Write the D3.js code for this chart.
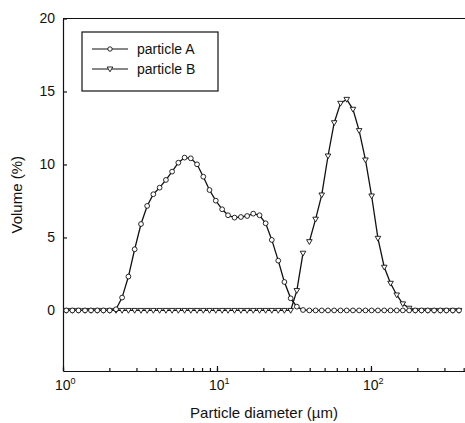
<!DOCTYPE html>
<html>
<head>
<meta charset="utf-8">
<script src="https://cdn.jsdelivr.net/npm/d3@7"></script>
<style>
  body { margin: 0; background: #fff; }
  text { font-family: "Liberation Sans", Arial, sans-serif; fill: #111; }
</style>
</head>
<body>
<script>
// particle size bins (um) shared by both samples
diameters = [1.05, 1.15, 1.26, 1.39, 1.52, 1.67, 1.83, 2.01,
  2.21, 2.42, 2.66, 2.92, 3.21, 3.52, 3.86, 4.24,
  4.66, 5.11, 5.61, 6.16, 6.76, 7.42, 8.15, 8.94, 9.82,
  10.8, 11.8, 13.0, 14.3, 15.7, 17.2, 18.9, 20.7, 22.7, 25.0, 27.4, 30.1, 33.0,
  36.2, 39.8, 43.7, 47.9, 52.6, 57.7, 63.4, 69.6, 76.4, 83.8, 92.1,
  101, 111, 122, 134, 147, 161, 177, 194, 213, 234, 257, 282, 309, 340, 373]

volumeA = [0, 0, 0, 0, 0, 0, 0, 0,
  0.08, 0.88, 2.32, 4.19, 5.92, 7.16, 7.96, 8.41,
  8.94, 9.51, 10.12, 10.47, 10.42, 10.01, 9.16, 8.25, 7.52,
  6.93, 6.52, 6.36, 6.40, 6.47, 6.63, 6.52, 5.97, 4.83, 3.41, 1.95, 0.83, 0.26,
  0.03, 0, 0, 0, 0, 0, 0, 0, 0, 0, 0,
  0, 0, 0, 0, 0, 0, 0, 0, 0, 0, 0, 0, 0, 0, 0]

volumeB = [0, 0, 0, 0, 0, 0, 0, 0,
  0, 0, 0, 0, 0, 0, 0, 0,
  0, 0, 0, 0, 0, 0, 0, 0, 0,
  0, 0, 0, 0, 0, 0, 0, 0, 0, 0, 0, 0, 1.36,
  3.92, 4.71, 6.25, 7.91, 10.58, 12.86, 14.19, 14.46, 13.78, 12.32, 10.31,
  7.84, 4.94, 2.96, 1.86, 1.06, 0.45, 0.15, 0, 0, 0, 0, 0, 0, 0, 0]

// the trace for B is broken between these two bins
bBreakAfter = 38

yTicks = [0, 5, 10, 15, 20]
xMajor = [1, 10, 100]
xExp = ["0", "1", "2"]
seriesNames = ["particle A", "particle B"]

width = 465
height = 423
margin = ({top: 18.5, right: 0, bottom: 52, left: 63})

x = d3.scaleLog()
  .domain([1, 408])
  .range([margin.left, width - margin.right])

y = d3.scaleLinear()
  .domain([-4.15, 20])
  .range([height - margin.bottom, margin.top])

const svg = d3.select("body").append("svg")
  .attr("width", width)
  .attr("height", height)

const ink = "#111"

// frame top
svg.append("line")
  .attr("x1", margin.left).attr("x2", width)
  .attr("y1", margin.top).attr("y2", margin.top)
  .attr("stroke", ink).attr("stroke-width", 1.2)

// y axis
svg.append("g")
  .attr("transform", `translate(${margin.left},0)`)
  .call(d3.axisLeft(y).tickValues(yTicks).tickSize(-4).tickSizeOuter(0).tickPadding(8))
  .call(g => g.selectAll(".domain,line").attr("stroke", ink).attr("stroke-width", 1.2))
  .call(g => g.selectAll("text").attr("font-size", 14).attr("font-family", null).attr("fill", ink))

// x axis: minor + major ticks pointing up
const xAxisG = svg.append("g")
  .attr("transform", `translate(0,${height - margin.bottom})`)
xAxisG.call(d3.axisBottom(x).ticks(10).tickFormat("").tickSize(-3).tickSizeOuter(0))
xAxisG.append("g")
  .call(d3.axisBottom(x).tickValues(xMajor).tickFormat("").tickSize(-5).tickSizeOuter(0))
  .call(g => g.select(".domain").remove())
xAxisG.selectAll(".domain,line").attr("stroke", ink).attr("stroke-width", 1.2)

const xl = svg.append("g").selectAll("text")
  .data(xMajor)
  .join("text")
  .attr("x", d => x(d) - 8)
  .attr("y", height - margin.bottom + 19)
  .attr("font-size", 14)
xl.append("tspan").text("10")
xl.append("tspan").attr("dy", -6).attr("font-size", 9).text((d, i) => xExp[i])

// axis titles
svg.append("text")
  .attr("x", 264).attr("y", 418)
  .attr("text-anchor", "middle")
  .attr("font-size", 15)
  .text("Particle diameter (\u00b5m)")

svg.append("text")
  .attr("transform", `translate(22,${(margin.top + height - margin.bottom) / 2}) rotate(-90)`)
  .attr("text-anchor", "middle")
  .attr("font-size", 15)
  .text("Volume (%)")

// series
const ptsA = diameters.map((d, i) => [d, volumeA[i]])
const ptsB = diameters.map((d, i) => [d, volumeB[i]])
const line = d3.line().x(d => x(d[0])).y(d => y(d[1]))

svg.append("path")
  .attr("d", line(ptsA))
  .attr("fill", "none").attr("stroke", ink).attr("stroke-width", 1.3)

svg.selectAll(".bseg")
  .data([ptsB.slice(0, bBreakAfter + 1), ptsB.slice(bBreakAfter + 1)])
  .join("path")
  .attr("class", "bseg")
  .attr("d", line)
  .attr("fill", "none").attr("stroke", ink).attr("stroke-width", 1.3)

const tri = "M-2.8,-2 L2.8,-2 L0,2.8 Z"

svg.append("g").selectAll("path")
  .data(ptsB)
  .join("path")
  .attr("transform", d => `translate(${x(d[0])},${y(d[1])})`)
  .attr("d", tri)
  .attr("fill", "white").attr("stroke", ink).attr("stroke-width", 0.9)

svg.append("g").selectAll("circle")
  .data(ptsA)
  .join("circle")
  .attr("cx", d => x(d[0]))
  .attr("cy", d => y(d[1]))
  .attr("r", 2.4)
  .attr("fill", "white").attr("stroke", ink).attr("stroke-width", 0.9)

// legend
const lg = svg.append("g")
lg.append("rect")
  .attr("x", 82).attr("y", 32).attr("width", 136).attr("height", 59)
  .attr("fill", "white").attr("stroke", ink).attr("stroke-width", 1.2)

const rows = lg.selectAll(".row")
  .data(seriesNames)
  .join("g")
  .attr("class", "row")
  .attr("transform", (d, i) => `translate(0,${49 + i * 20})`)
rows.append("line")
  .attr("x1", 92).attr("x2", 128)
  .attr("stroke", ink).attr("stroke-width", 1.2)
rows.filter((d, i) => i === 0).append("circle")
  .attr("cx", 110).attr("r", 2.2)
  .attr("fill", "white").attr("stroke", ink).attr("stroke-width", 0.9)
rows.filter((d, i) => i === 1).append("path")
  .attr("transform", "translate(110,0)")
  .attr("d", tri)
  .attr("fill", "white").attr("stroke", ink).attr("stroke-width", 0.9)
rows.append("text")
  .attr("x", 137).attr("y", 5)
  .attr("font-size", 14)
  .text(d => d)
</script>
</body>
</html>
